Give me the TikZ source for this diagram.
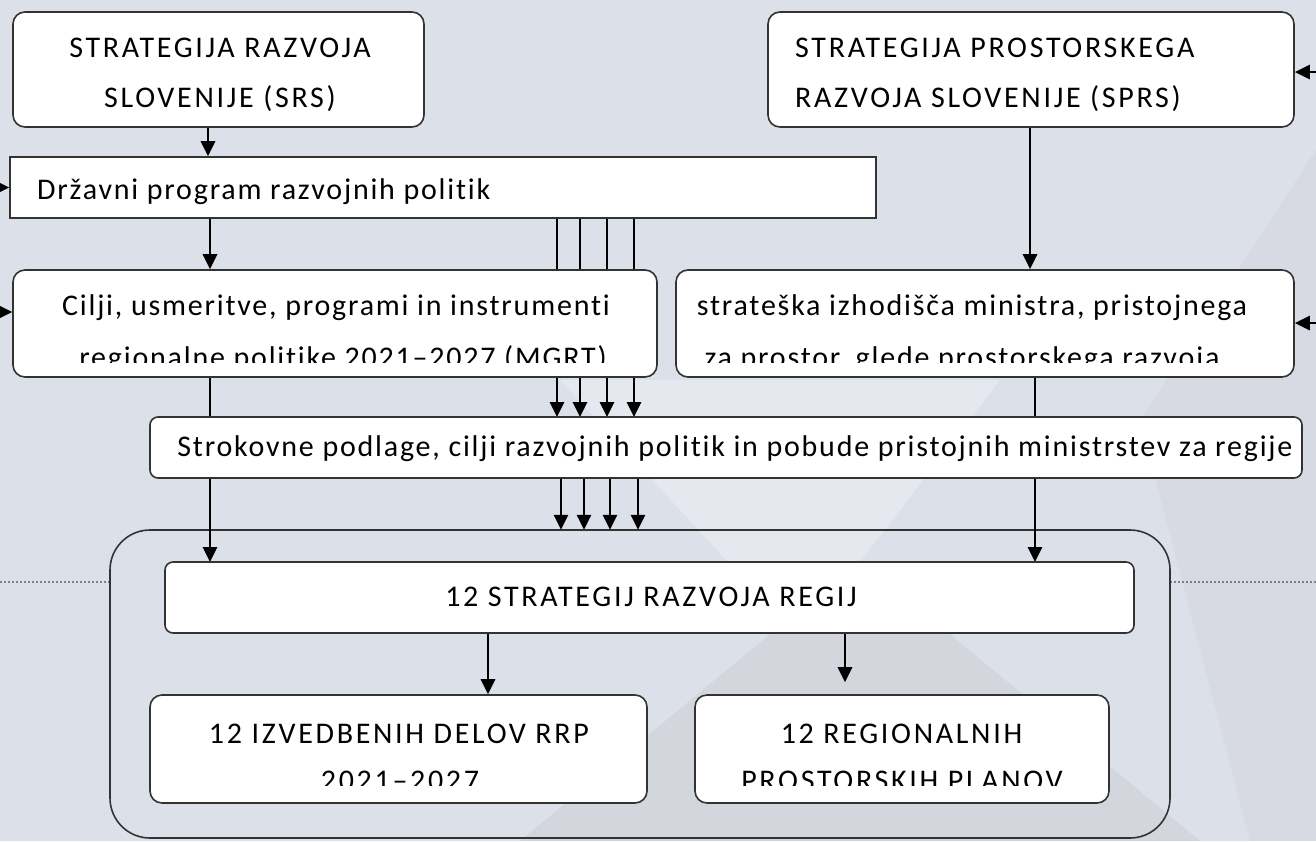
\documentclass[tikz,border=0pt]{standalone}
\usepackage{fontspec}
\setmainfont{Carlito}
\newfontfamily\lblfont[LetterSpace=6,Ligatures={NoCommon}]{Carlito}
\newfontfamily\capfont[LetterSpace=9,Ligatures={NoCommon}]{Carlito}
\usetikzlibrary{arrows.meta}
\definecolor{bgbase}{HTML}{DCE0E8}
\definecolor{bglight}{HTML}{E5E8EE}
\definecolor{bgdark}{HTML}{D3D6DD}
\definecolor{boxline}{HTML}{333333}
\tikzset{
  box/.style={draw=boxline, line width=1.6pt, fill=white, rounded corners=12pt},
  flatbox/.style={draw=boxline, line width=1.6pt, fill=white},
  arr/.style={draw=black, line width=2.8pt, -{Triangle[width=14pt,length=15pt]}},
  lbl/.style={font=\lblfont\fontsize{30}{30}\selectfont, inner sep=0pt, anchor=base},
  lbll/.style={lbl, anchor=base west},
  captext/.style={font=\capfont\fontsize{30}{30}\selectfont, inner sep=0pt, anchor=base},
  captextl/.style={captext, anchor=base west},
}
\begin{document}
\begin{tikzpicture}[x=1pt,y=-1pt]
\useasboundingbox (0,0) rectangle (1316,841);
% background
\fill[bgbase] (0,0) rectangle (1316,841);
\fill[bglight] (560,380) -- (1000,380) -- (800,640) -- cycle;
\fill[bgdark] (860,560) -- (1200,841) -- (520,841) -- cycle;
\fill[bgdark, opacity=0.5] (1316,150) -- (1316,841) -- (1250,841) -- (1140,420) -- cycle;
% dotted lines
\draw[gray, line width=2pt, dotted] (0,582) -- (110,582);
\draw[gray, line width=2pt, dotted] (1170,582) -- (1316,582);
% container
\draw[draw=boxline, line width=1.6pt, rounded corners=40pt] (110,530) rectangle (1170,838);
\node[inner sep=0pt, minimum size=0pt] (cont) at (640,530) {};

% long connectors drawn behind boxes
\foreach \xx in {557,580,607,634}{
  \draw[arr] (\xx,218) -- (\xx,417);
}
\draw[arr] (210,377) -- (210,562);
\draw[arr] (1035,377) -- (1035,562);

% boxes
\node[box, minimum width=411pt, minimum height=115pt] (srs) at (218.5,69.5) {};
\node[box, minimum width=526pt, minimum height=115pt] (sprs) at (1031,69.5) {};
\node[box, minimum width=644pt, minimum height=107pt] (cilji) at (335,323.5) {};
\node[box, minimum width=618pt, minimum height=107pt] (strat) at (985,323.5) {};
\node[flatbox, minimum width=866pt, minimum height=61pt] (drz) at (443,187.5) {};
\node[box, rounded corners=8pt, minimum width=1152pt, minimum height=61pt] (strok) at (726,447.5) {};
\node[box, rounded corners=8pt, minimum width=969pt, minimum height=71pt] (s12) at (649.5,597.5) {};
\node[box, minimum width=497pt, minimum height=108pt] (izv) at (398.5,749) {};
\node[box, minimum width=414pt, minimum height=108pt] (reg) at (902,749) {};

% connectors
\draw[arr] (208,0 |- srs.south) -- (208,0 |- drz.north);
\draw[arr] (210,0 |- drz.south) -- (210,0 |- cilji.north);
\draw[arr] (1030,0 |- sprs.south) -- (1030,0 |- strat.north);
\foreach \xx in {561,584,610,638}{
  \draw[arr] (\xx,0 |- strok.south) -- (\xx,0 |- cont.north);
}
\draw[arr] (488,0 |- s12.south) -- (488,0 |- izv.north);
\draw[arr, shorten >=12pt] (845,0 |- s12.south) -- (845,0 |- reg.north);

% side inputs
\coordinate (inL1) at (-12,187.5);
\coordinate (inL2) at (-12,312);
\coordinate (inR1) at (1330,72);
\coordinate (inR2) at (1330,323);
\draw[arr] (inL1) -- (inL1 -| drz.west);
\draw[arr] (inL2) -- (inL2 -| cilji.west);
\draw[arr] (inR1) -- (inR1 -| sprs.east);
\draw[arr] (inR2) -- (inR2 -| strat.east);

% texts
\node[captext] (t1) at (220,57) {STRATEGIJA RAZVOJA};
\node[captext] (t2) at (220,107) {SLOVENIJE (SRS)};
\node[captextl] (t3) at (795,57) {STRATEGIJA PROSTORSKEGA};
\node[captextl] (t4) at (795,107) {RAZVOJA SLOVENIJE (SPRS)};
\node[lbll] (t5) at (37,199) {Državni program razvojnih politik};
\node[lbl] (t6) at (336,315) {Cilji, usmeritve, programi in instrumenti};
\begin{scope}
  \clip (20,330) rectangle (650,362);
  \node[lbl] (t7) at (343,367) {regionalne politike 2021–2027 (MGRT)};
\end{scope}
\node[lbl] (t8) at (972,315) {strateška izhodišča ministra, pristojnega};
\begin{scope}
  \clip (680,330) rectangle (1290,362);
  \node[lbl] (t9) at (962,367) {za prostor, glede prostorskega razvoja};
\end{scope}
\node[lbl] (t10) at (735,456) {Strokovne podlage, cilji razvojnih politik in pobude pristojnih ministrstev za regije};
\node[captext] (t11) at (651,606) {12 STRATEGIJ RAZVOJA REGIJ};
\node[captext] (t12) at (399,743) {12 IZVEDBENIH DELOV RRP};
\begin{scope}
  \clip (155,755) rectangle (642,785);
  \node[captext] (t13) at (400,790) {2021–2027};
\end{scope}
\node[captext] (t14) at (901.5,743) {12 REGIONALNIH};
\begin{scope}
  \clip (700,755) rectangle (1104,785);
  \node[captext] (t15) at (902,790) {PROSTORSKIH PLANOV};
\end{scope}
\end{tikzpicture}
\end{document}
